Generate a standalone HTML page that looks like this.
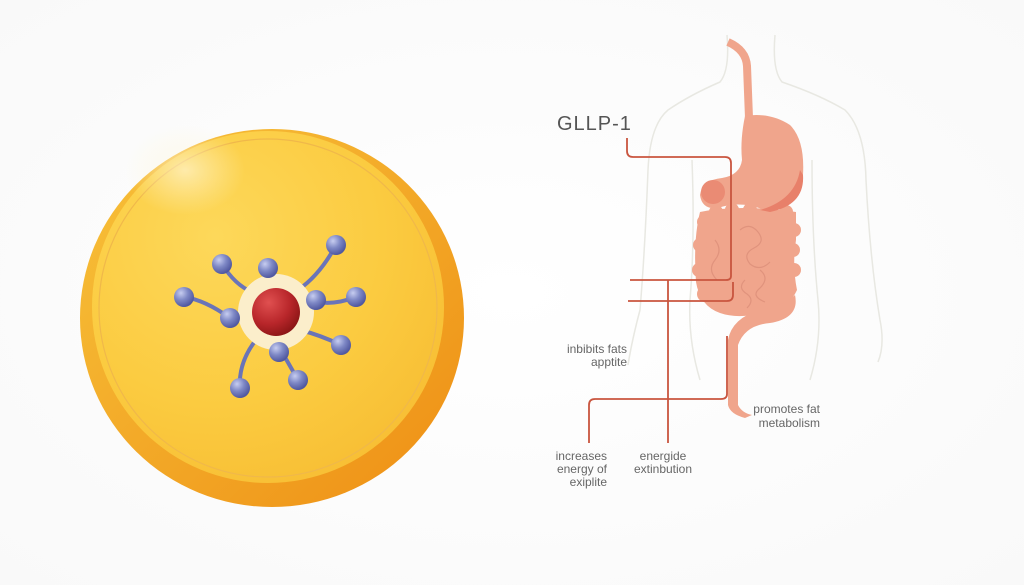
<!DOCTYPE html>
<html><head><meta charset="utf-8"><style>
html,body{margin:0;padding:0;background:#fff;}
svg{display:block}
text{font-family:"Liberation Sans",sans-serif;}
</style></head><body>
<svg width="1024" height="585" viewBox="0 0 1024 585" xmlns="http://www.w3.org/2000/svg">
<defs>
<radialGradient id="bg" cx="0.5" cy="0.5" r="0.7"><stop offset="0" stop-color="#ffffff"/><stop offset="1" stop-color="#f9f9f9"/></radialGradient>
<linearGradient id="rim" x1="0" y1="0" x2="1" y2="1"><stop offset="0" stop-color="#f7c23a"/><stop offset="0.6" stop-color="#f2a424"/><stop offset="1" stop-color="#ee8e14"/></linearGradient>
<radialGradient id="face" cx="0.35" cy="0.3" r="0.8"><stop offset="0" stop-color="#fdd85a"/><stop offset="0.6" stop-color="#fbcb40"/><stop offset="1" stop-color="#f7bd33"/></radialGradient>
<radialGradient id="glow" cx="0.5" cy="0.5" r="0.5"><stop offset="0" stop-color="#fffbe8" stop-opacity="0.6"/><stop offset="1" stop-color="#fff6d0" stop-opacity="0"/></radialGradient>
<radialGradient id="ball" cx="0.35" cy="0.3" r="0.7"><stop offset="0" stop-color="#c7cdf0"/><stop offset="0.5" stop-color="#7f89c6"/><stop offset="1" stop-color="#5058a0"/></radialGradient>
<radialGradient id="red" cx="0.35" cy="0.3" r="0.75"><stop offset="0" stop-color="#e05050"/><stop offset="0.6" stop-color="#b8262a"/><stop offset="1" stop-color="#8a1515"/></radialGradient>
</defs>
<rect width="1024" height="585" fill="url(#bg)"/>
<!-- coin -->
<ellipse cx="272" cy="318" rx="192" ry="189" fill="url(#rim)"/>
<circle cx="268" cy="307" r="176" fill="url(#face)"/>
<circle cx="268" cy="308" r="169" fill="none" stroke="#f0b84a" stroke-width="1.2"/>
<ellipse cx="185" cy="170" rx="60" ry="45" fill="url(#glow)"/>
<!-- molecule stems -->
<g stroke="#6a74b8" stroke-width="4" fill="none" stroke-linecap="round">
<path d="M222 264 Q235 285 252 292"/>
<path d="M268 268 L272 285"/>
<path d="M336 245 Q320 275 298 290"/>
<path d="M184 297 Q205 300 230 318"/>
<path d="M316 300 L296 305"/>
<path d="M356 297 Q335 305 318 302"/>
<path d="M341 345 Q320 335 300 330"/>
<path d="M298 380 L282 352"/>
<path d="M240 388 Q238 360 260 335"/>
</g>
<circle cx="276" cy="312" r="38" fill="#fbeecb"/>
<circle cx="276" cy="312" r="24" fill="url(#red)"/>
<g fill="url(#ball)">
<circle cx="222" cy="264" r="10"/><circle cx="268" cy="268" r="10"/><circle cx="336" cy="245" r="10"/>
<circle cx="184" cy="297" r="10"/><circle cx="230" cy="318" r="10"/><circle cx="316" cy="300" r="10"/>
<circle cx="356" cy="297" r="10"/><circle cx="279" cy="352" r="10"/><circle cx="341" cy="345" r="10"/>
<circle cx="298" cy="380" r="10"/><circle cx="240" cy="388" r="10"/>
</g>
<!-- body outline -->
<g stroke="#e8e8e2" stroke-width="1.5" fill="none">
<path d="M727 35 Q730 70 720 82 Q690 95 668 110 Q650 125 648 170 Q645 250 640 310 Q632 340 628 365"/>
<path d="M775 35 Q772 70 782 82 Q820 95 845 110 Q865 130 866 180 Q870 260 880 320 Q885 345 878 362"/>
<path d="M692 160 Q695 240 690 300 Q688 340 700 380"/>
<path d="M812 160 Q812 240 818 300 Q822 340 810 380"/>
</g>
<!-- digestive -->
<path d="M728 42 Q746 50 747 66 L749 118" stroke="#f0a58c" stroke-width="8" fill="none"/>
<g fill="#f0a58c">
<path d="M745 116 Q740 140 742 160 Q740 175 722 178 Q702 180 700 195 Q702 210 718 208 Q740 200 765 210 Q800 205 803 175 Q805 140 790 125 Q770 112 745 116 Z"/>
<path d="M700 212 Q740 204 796 212 L796 240 Q792 265 797 290 Q790 306 770 311 Q740 320 720 313 Q700 306 696 282 Q693 240 700 212 Z"/>
<path d="M795 295 Q800 318 770 323 Q745 325 738 345 L738 405 Q742 413 752 415 L745 418 Q730 414 728 405 L728 340 Q732 318 760 310 Q785 305 795 295 Z"/>
</g>
<g fill="#f0a58c">
<circle cx="704" cy="222" r="7"/><circle cx="716" cy="212" r="7"/><circle cx="732" cy="210" r="7"/><circle cx="750" cy="210" r="7"/><circle cx="768" cy="210" r="7"/><circle cx="786" cy="212" r="7"/>
<circle cx="794" cy="230" r="7"/><circle cx="793" cy="250" r="7"/><circle cx="794" cy="270" r="7"/><circle cx="700" cy="245" r="7"/><circle cx="699" cy="270" r="7"/><circle cx="705" cy="294" r="8"/>
</g>
<path d="M800 170 Q795 200 760 210 L770 212 Q805 205 803 175 Z" fill="#e8806a"/>
<circle cx="713" cy="192" r="12" fill="#ea8b74"/>
<g stroke="#e0937d" stroke-width="1.2" fill="none">
<path d="M740 230 q10 -8 18 2 q8 10 -4 16 q-12 6 -4 16 q10 8 20 -2 M715 240 q8 10 0 20 q-8 10 2 20 M760 270 q10 8 0 18 q-10 8 5 14 M745 280 q-8 8 2 14 q8 6 0 14"/>
</g>
<!-- connectors -->
<g stroke="#c9553f" stroke-width="1.8" fill="none">
<path d="M627 138 L627 151 Q627 157 633 157 L725 157 Q731 157 731 163 L731 276 Q731 280 726 280 L630 280"/>
<path d="M628 301 L727 301 Q733 301 733 295 L733 282"/>
<path d="M668 280 L668 443"/>
<path d="M727 336 L727 394 Q727 399 721 399 L595 399 Q589 399 589 405 L589 443"/>
</g>
<!-- text -->
<text x="557" y="130" font-size="20" fill="#555" letter-spacing="1">GLLP-1</text>
<g font-size="12" fill="#666">
<text x="627" y="353" text-anchor="end">inbibits fats</text>
<text x="627" y="366" text-anchor="end">apptite</text>
<text x="820" y="413" text-anchor="end">promotes fat</text>
<text x="820" y="427" text-anchor="end">metabolism</text>
<text x="607" y="460" text-anchor="end">increases</text>
<text x="607" y="473" text-anchor="end">energy of</text>
<text x="607" y="486" text-anchor="end">exiplite</text>
<text x="663" y="460" text-anchor="middle">energide</text>
<text x="663" y="473" text-anchor="middle">extinbution</text>
</g>
</svg>
</body></html>
